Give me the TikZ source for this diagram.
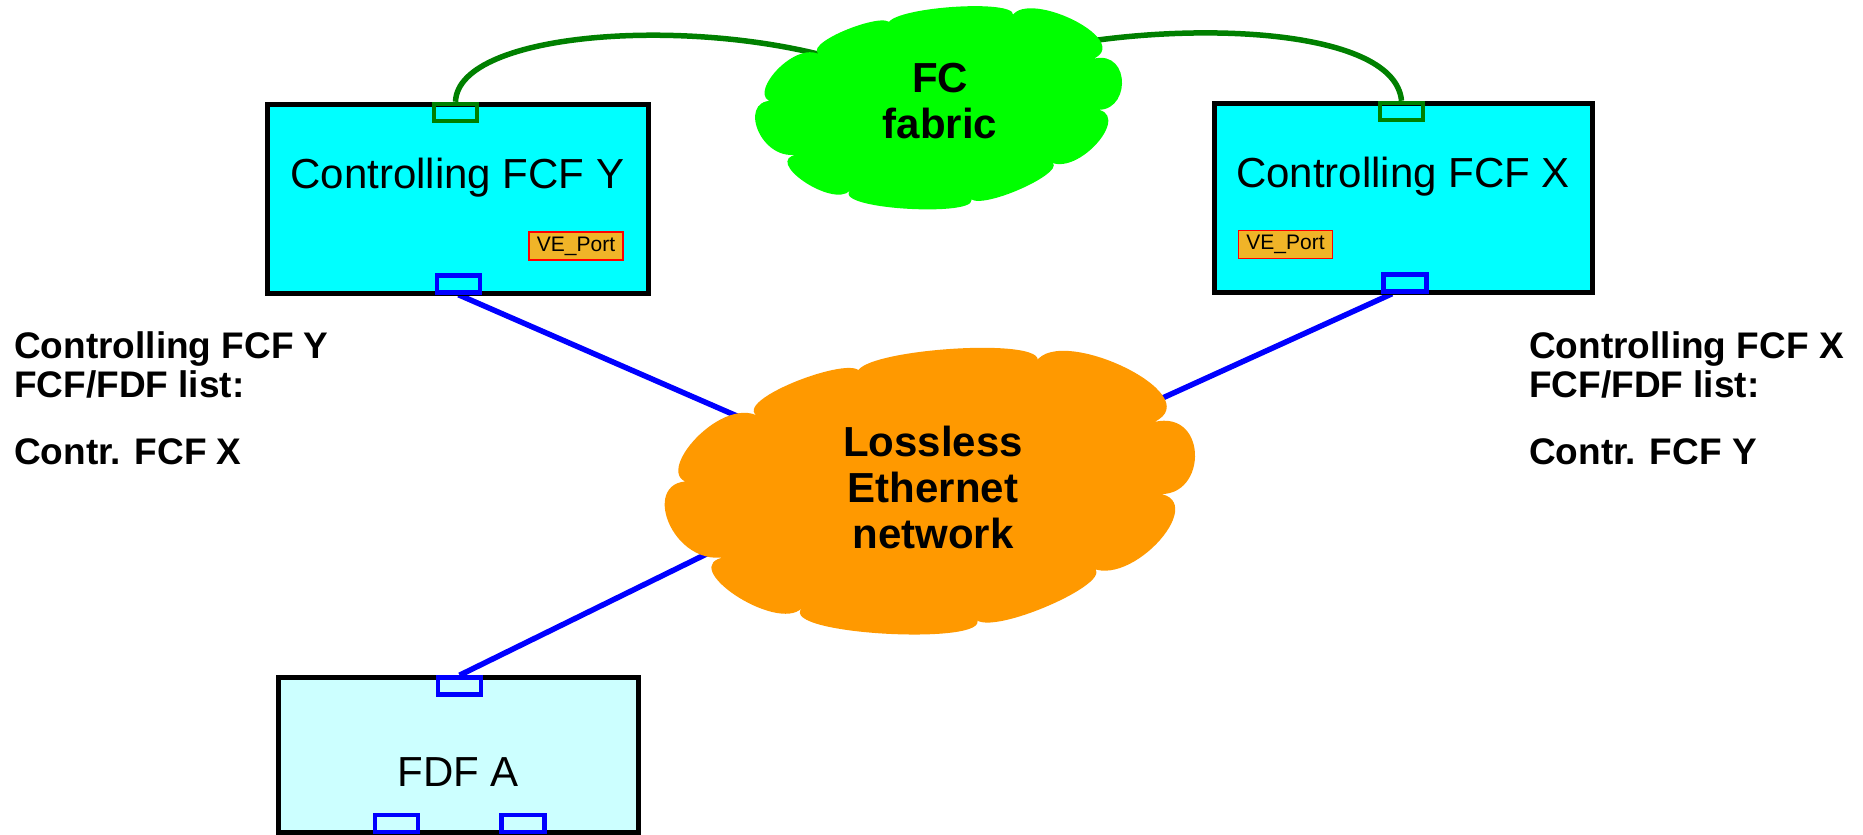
\documentclass[tikz,border=0pt]{standalone}
\usepackage{fontspec}
\setmainfont{Liberation Sans}
\usetikzlibrary{backgrounds}

\definecolor{ctlcyan}{HTML}{00FFFF}
\definecolor{fdfcyan}{HTML}{CCFFFF}
\definecolor{fcgreen}{HTML}{00FF00}
\definecolor{ethorange}{HTML}{FF9900}
\definecolor{linkgreen}{HTML}{008000}
\definecolor{portblue}{HTML}{0000FF}
\definecolor{tagorange}{HTML}{F0B428}

\tikzset{
  ctlbox/.style={rectangle, draw=black, line width=5pt, fill=ctlcyan, inner sep=0pt},
  fdfbox/.style={ctlbox, fill=fdfcyan},
  fcport/.style={rectangle, draw=linkgreen, line width=4.5pt, minimum width=43pt,
    minimum height=17pt, inner sep=0pt},
  ethport/.style={fcport, draw=portblue},
  vetag/.style={rectangle, draw=red, line width=1.5pt, fill=tagorange,
    minimum width=94pt, minimum height=28pt, inner sep=0pt,
    font=\fontsize{21}{24}\selectfont},
  boxlabel/.style={inner sep=0pt, anchor=base, font=\fontsize{42}{46}\selectfont},
  cloudlabel/.style={inner sep=0pt, align=center, font=\bfseries\fontsize{42}{46}\selectfont},
  listline/.style={inner sep=0pt, anchor=base west, font=\bfseries\fontsize{37}{40}\selectfont},
  fclink/.style={draw=linkgreen, line width=5.5pt},
  ethlink/.style={draw=portblue, line width=5.5pt},
  % ten-puff cloud outline, drawn around its centre
  pics/netcloud/.style={code={
    \fill[#1] (-71.5,-113.5)
      .. controls (-98.3,-142.0) and (139.7,-158.4) .. (103.5,-125.5)
      .. controls (119.2,-172.9) and (282.4,-96.7) .. (223.5,-69.5)
      .. controls (279.9,-83.0) and (277.1,13.6) .. (221.5,1.5)
      .. controls (286.3,2.4) and (199.3,101.6) .. (157.5,74.5)
      .. controls (203.3,84.2) and (48.3,152.2) .. (43.5,124.5)
      .. controls (78.5,155.2) and (-155.5,144.4) .. (-128.5,116.5)
      .. controls (-153.5,142.4) and (-256.9,73.0) .. (-204.5,65.5)
      .. controls (-262.9,76.1) and (-295.5,-24.5) .. (-228.5,-8.5)
      .. controls (-290.2,-1.6) and (-216.8,-94.0) .. (-174.5,-76.5)
      .. controls (-196.3,-94.5) and (-56.3,-144.9) .. (-71.5,-113.5)
      -- cycle;
  }},
}

\begin{document}
\begin{tikzpicture}[x=1pt, y=-1pt]
\useasboundingbox (0,0) rectangle (1863,835);

% clouds
\pic[xscale=0.6919, yscale=0.7088] (fcshape) at (939,108) {netcloud=fcgreen};
\node[cloudlabel] (fcfab) at (940,101) {FC\\fabric};
\pic (ethshape) at (930.5,491.5) {netcloud=ethorange};
\node[cloudlabel] (eth) at (933,487.5) {Lossless\\Ethernet\\network};

% switches
\node[ctlbox, minimum width=381pt, minimum height=189pt] (fcfy) at (457.5,198.5) {};
\node[ctlbox, minimum width=378pt, minimum height=189pt] (fcfx) at (1403,197.5) {};
\node[fdfbox, minimum width=360pt, minimum height=155pt] (fdfa) at (458,754.5) {};

\node[boxlabel] (ylabel) at (457.5,188) {Controlling FCF Y};
\node[boxlabel] (xlabel) at (1403,187.5) {Controlling FCF X};
\node[boxlabel] (alabel) at (458,786) {FDF A};

% ports
\node[fcport] (yfc) at (455.5,112.5) {};
\node[ethport] (yeth) at (458.5,284) {};
\node[fcport] (xfc) at (1401.5,111.5) {};
\node[ethport] (xeth) at (1405,283) {};
\node[ethport] (aeth) at (459.5,686) {};
\node[ethport] (aport1) at (396.5,823.5) {};
\node[ethport] (aport2) at (523,823.5) {};

\node[vetag] (yve) at (576,246) {VE\_Port};
\node[vetag] (xve) at (1285.5,244.5) {VE\_Port};

% FCF/FDF lists
\node[listline] (ylist1) at (14,358) {Controlling FCF Y};
\node[listline] (ylist2) at (14,397) {FCF/FDF list:};
\node[listline] (ylist3) at (14,464) {Contr. FCF X};
\node[listline] (xlist1) at (1529,358) {Controlling FCF X};
\node[listline] (xlist2) at (1529,397) {FCF/FDF list:};
\node[listline] (xlist3) at (1529,464) {Contr. FCF Y};

% links, under the clouds and boxes
\coordinate (fcin-y) at (850,63);
\coordinate (fcin-x) at (1060,46);
\coordinate (ethin-y) at (900,487);
\coordinate (ethin-x) at (960,490);
\coordinate (ethin-a) at (900,459);
\begin{scope}[on background layer]
  \draw[fclink] (yfc.north) .. controls (458,30) and (700,15) .. (fcin-y);
  \draw[fclink] (xfc.north) .. controls (1395,30) and (1200,20) .. (fcin-x);
  \draw[ethlink] (yeth.south) -- (ethin-y);
  \draw[ethlink] ([xshift=-13pt]xeth.south) -- (ethin-x);
  \draw[ethlink] (aeth.north) -- (ethin-a);
\end{scope}
\end{tikzpicture}
\end{document}
